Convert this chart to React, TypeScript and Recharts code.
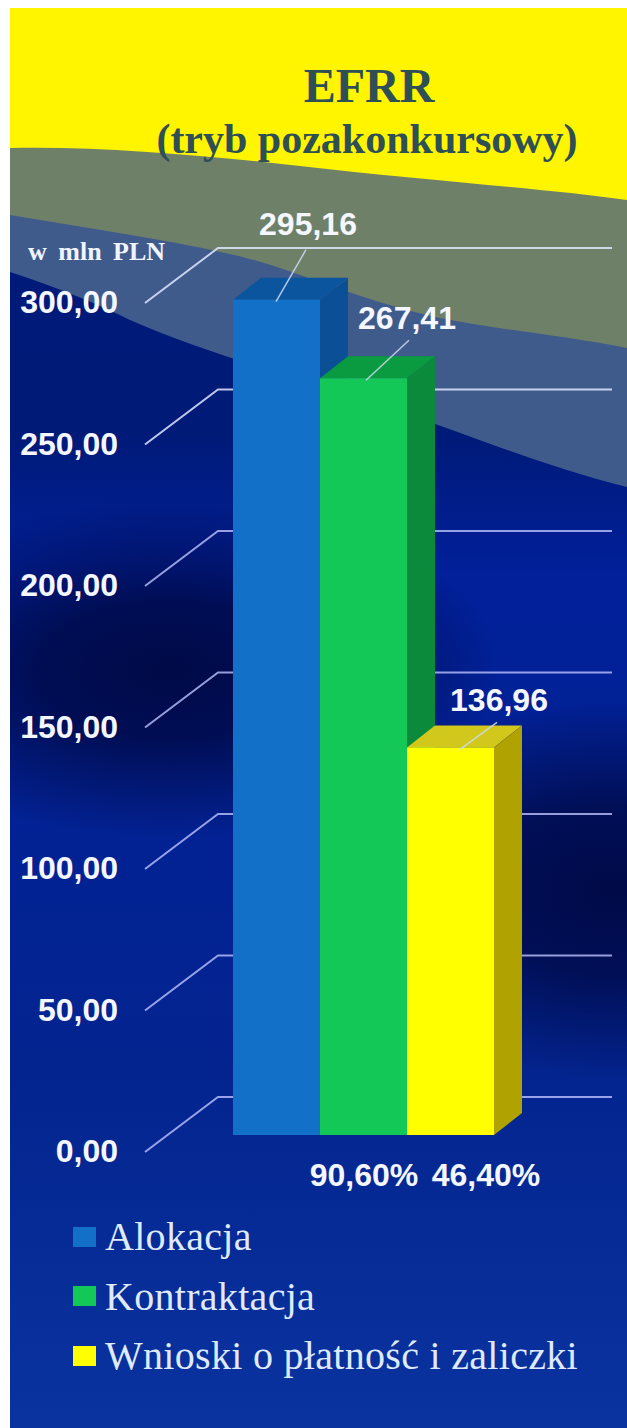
import React from 'react';
import { BarChart, Bar, XAxis, YAxis, CartesianGrid, Legend, Label } from 'recharts';

const categories = ['EFRR'];
const alokacja = [295.16];
const kontraktacja = [267.41];
const wnioski = [136.96];
const yTicks = [0, 50, 100, 150, 200, 250, 300];
const seriesNames = ['Alokacja', 'Kontraktacja', 'Wnioski o płatność i zaliczki'];
const shares = ['', '90,60%', '46,40%'];

const chartData = categories.map((name, i) => ({
    name,
    alokacja: alokacja[i],
    kontraktacja: kontraktacja[i],
    wnioski: wnioski[i],
}));

const DEPTH_X = 28;
const DEPTH_Y = 22;
const SANS = '"Liberation Sans", Arial, sans-serif';
const SERIF = '"Liberation Serif", serif';

const faces = [
    { front: '#1270c8', top: '#0b559f', side: '#0b4f96' },
    { front: '#14c858', top: '#0a9a40', side: '#0b8a3c' },
    { front: '#ffff00', top: '#d2c81c', side: '#b0a200' },
];

// where the value label and its leader sit, relative to the top left of the bar
const labelSpots = [
    { fromX: 43, toX: 73, toY: -50, textX: 75, textY: -65, shareX: 0 },
    { fromX: 46, toX: 89, toY: -38, textX: 87, textY: -49, shareX: 44 },
    { fromX: 53, toX: 90, toY: -25, textX: 92, textY: -36, shareX: 79 },
];

const fmt = (v: number) => v.toFixed(2).replace('.', ',');

const Bar3D = (props: any, idx: number) => {
    const { x, y, width, height } = props;
    const f = faces[idx];
    const r = x + width;
    const b = y + height;
    return (
        <g>
            <polygon points={`${x},${y} ${x + DEPTH_X},${y - DEPTH_Y} ${r + DEPTH_X},${y - DEPTH_Y} ${r},${y}`} fill={f.top} />
            <polygon points={`${r},${y} ${r + DEPTH_X},${y - DEPTH_Y} ${r + DEPTH_X},${b - DEPTH_Y} ${r},${b}`} fill={f.side} />
            <rect x={x} y={y} width={width} height={height} fill={f.front} />
        </g>
    );
};

const ValueLabel = (props: any, idx: number) => {
    const { x, y, height, value } = props;
    const s = labelSpots[idx];
    return (
        <g>
            <line x1={x + s.fromX} y1={y + 2} x2={x + s.toX} y2={y + s.toY} stroke="rgba(205,220,245,0.85)" strokeWidth={1.5} />
            <text x={x + s.textX} y={y + s.textY} textAnchor="middle" fontFamily={SANS} fontWeight="bold" fontSize={32} fill="#f4f7ff">
                {fmt(value)}
            </text>
            {shares[idx] && (
                <text x={x + s.shareX} y={y + height + 51} textAnchor="middle" fontFamily={SANS} fontWeight="bold" fontSize={32} fill="#f4f7ff">
                    {shares[idx]}
                </text>
            )}
        </g>
    );
};

const GridLine = (props: any) => {
    const { y1 } = props;
    return (
        <polyline
            points={`145,${y1 + 17} 218,${y1 - 38} 612,${y1 - 38}`}
            fill="none"
            stroke={y1 < 500 ? 'rgba(225,232,255,0.85)' : 'rgba(190,195,255,0.8)'}
            strokeWidth={2}
        />
    );
};

const YTick = (props: any) => {
    const { y, payload } = props;
    return (
        <text x={118} y={y + 27} textAnchor="end" fontFamily={SANS} fontWeight="bold" fontSize={32} fill="#f4f7ff">
            {fmt(payload.value)}
        </text>
    );
};

const LegendBox = () => (
    <div style={{ fontFamily: SERIF, fontSize: 40, letterSpacing: 0.3, color: '#dfeaff', lineHeight: '59.5px' }}>
        {seriesNames.map((name, i) => (
            <div key={name} style={{ display: 'flex', alignItems: 'center', height: 59.5, whiteSpace: 'nowrap' }}>
                <span style={{ width: 23, height: 20, marginRight: 9, background: faces[i].front, display: 'inline-block' }} />
                {name}
            </div>
        ))}
    </div>
);

const Backdrop = () => (
    <svg width={627} height={1428} style={{ position: 'absolute', left: 0, top: 0 }}>
        <defs>
            <linearGradient id="deep" x1="0" y1="0" x2="0" y2="1">
                <stop offset="0" stopColor="#001a7c" />
                <stop offset="0.3" stopColor="#001a78" />
                <stop offset="0.4" stopColor="#01209a" />
                <stop offset="0.75" stopColor="#03248f" />
                <stop offset="1" stopColor="#0a339f" />
            </linearGradient>
            <radialGradient id="darkLeft">
                <stop offset="0" stopColor="#000a48" stopOpacity={1} />
                <stop offset="0.4" stopColor="#000a48" stopOpacity={0.85} />
                <stop offset="1" stopColor="#000a48" stopOpacity={0} />
            </radialGradient>
            <radialGradient id="darkRight">
                <stop offset="0" stopColor="#000a48" stopOpacity={1} />
                <stop offset="0.45" stopColor="#000a48" stopOpacity={0.8} />
                <stop offset="1" stopColor="#000a48" stopOpacity={0} />
            </radialGradient>
            <clipPath id="panel">
                <rect x={10} y={8} width={617} height={1420} />
            </clipPath>
        </defs>
        <rect x={0} y={0} width={627} height={1428} fill="#ffffff" />
        <g clipPath="url(#panel)">
            <rect x={10} y={8} width={617} height={1420} fill="url(#deep)" />
            <ellipse cx={170} cy={670} rx={330} ry={170} fill="url(#darkLeft)" />
            <ellipse cx={610} cy={890} rx={280} ry={190} fill="url(#darkRight)" />
            <path d="M10,8 H627 V487 C540,465 470,435 380,405 C300,378 210,355 130,320 C90,300 50,285 10,272 Z" fill="#3f5b8c" />
            <path d="M10,8 H627 V348 C560,335 500,330 440,318 C380,305 330,285 280,268 C220,247 110,232 10,215 Z" fill="#6f8069" />
            <path d="M10,8 H627 V200 C540,188 420,180 300,166 C200,155 100,146 10,148 Z" fill="#fff500" />
        </g>
        <text x={369} y={102} textAnchor="middle" fontFamily={SERIF} fontWeight="bold" fontSize={48} fill="#2e4f55">EFRR</text>
        <text x={367} y={153} textAnchor="middle" fontFamily={SERIF} fontWeight="bold" fontSize={42} fill="#2e4f55">(tryb pozakonkursowy)</text>
    </svg>
);

export default function App() {
    return (
        <div style={{ position: 'absolute', left: 0, top: 0, width: 627, height: 1428, overflow: 'hidden' }}>
            <Backdrop />
            <div style={{ position: 'absolute', left: 0, top: 0 }}>
                <BarChart
                    width={627}
                    height={1428}
                    data={chartData}
                    margin={{ top: 286, right: 132, bottom: 293, left: 0 }}
                    barCategoryGap={0}
                    barGap={0}
                >
                    <CartesianGrid vertical={false} horizontal={GridLine} />
                    <XAxis dataKey="name" hide />
                    <YAxis
                        width={233}
                        domain={[0, 300]}
                        ticks={yTicks}
                        interval={0}
                        axisLine={false}
                        tickLine={false}
                        tick={YTick}
                    >
                        <Label
                            content={() => (
                                <text x={28} y={260} fontFamily={SERIF} fontWeight="bold" fontSize={26} wordSpacing={5} fill="#f0f4ff">
                                    w mln PLN
                                </text>
                            )}
                        />
                    </YAxis>
                    <Legend
                        layout="horizontal"
                        verticalAlign="middle"
                        wrapperStyle={{ position: 'absolute', left: 73, top: 1207, width: 540, height: 180 }}
                        content={LegendBox}
                    />
                    <Bar dataKey="alokacja" name={seriesNames[0]} fill={faces[0].front} isAnimationActive={false}
                        shape={(p: any) => Bar3D(p, 0)} label={(p: any) => ValueLabel(p, 0)} />
                    <Bar dataKey="kontraktacja" name={seriesNames[1]} fill={faces[1].front} isAnimationActive={false}
                        shape={(p: any) => Bar3D(p, 1)} label={(p: any) => ValueLabel(p, 1)} />
                    <Bar dataKey="wnioski" name={seriesNames[2]} fill={faces[2].front} isAnimationActive={false}
                        shape={(p: any) => Bar3D(p, 2)} label={(p: any) => ValueLabel(p, 2)} />
                </BarChart>
            </div>
        </div>
    );
}
